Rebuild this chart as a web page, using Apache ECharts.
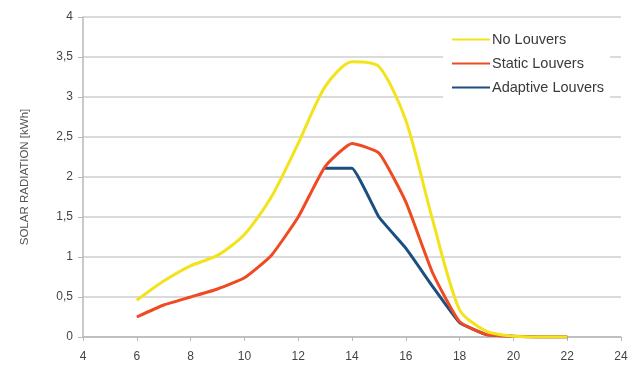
<!DOCTYPE html>
<html>
<head>
<meta charset="utf-8">
<script src="https://cdn.jsdelivr.net/npm/echarts@6/dist/echarts.min.js"></script>
<style>
html,body{margin:0;padding:0;background:#fff;}
#c{width:641px;height:377px;}
</style>
</head>
<body>
<div id="c"></div>
<script>
const hoursNo = [6,7,8,9,10,11,12,13,14,15,16,17,18,19,20,21,22];
const noLouvers = [0.46,0.7,0.89,1.02,1.28,1.75,2.42,3.13,3.44,3.38,2.71,1.46,0.34,0.07,0.01,0,0];
const hoursStatic = [6,7,8,9,10,11,12,13,14,15,16,17,18,19,20,21,22];
const staticLouvers = [0.25,0.4,0.5,0.6,0.74,1.02,1.5,2.13,2.42,2.3,1.69,0.8,0.19,0.03,0.01,0,0];
const hoursAdaptive = [13,14,15,16,17,18,19,20,21,22];
const adaptiveLouvers = [2.11,2.11,1.5,1.11,0.63,0.18,0.03,0.01,0,0];

const pair = (xs, ys) => xs.map((x, i) => [x, ys[i]]);
const chart = echarts.init(document.getElementById('c'));
chart.setOption({
  animation: false,
  backgroundColor: '#fff',
  grid: {left: 83, right: 20, top: 17, bottom: 40},
  legend: {
    orient: 'vertical', left: 443, top: 28, itemGap: 9,
    backgroundColor: '#fff', padding: [4, 6, 4, 9],
    icon: 'rect', itemWidth: 38, itemHeight: 2,
    textStyle: {fontFamily: 'Liberation Sans', fontSize: 14.5, lineHeight: 15, color: '#3a3a3a', padding: [0,0,0,-3]},
    data: ['No Louvers', 'Static Louvers', 'Adaptive Louvers']
  },
  xAxis: {
    type: 'value', min: 4, max: 24, interval: 2,
    axisLine: {show: true, lineStyle: {color: '#b8b8b8', width: 1.5}},
    axisTick: {show: true, length: 4, lineStyle: {color: '#b8b8b8'}},
    axisLabel: {fontFamily: 'Liberation Sans', fontSize: 12, color: '#444', margin: 14},
    splitLine: {show: false}
  },
  yAxis: {
    type: 'value', min: 0, max: 4, interval: 0.5,
    name: 'SOLAR RADIATION [kWh]', nameLocation: 'middle', nameGap: 52, nameRotate: 90,
    nameTextStyle: {fontFamily: 'Liberation Sans', fontSize: 11.5, color: '#555'},
    axisLine: {show: true, lineStyle: {color: '#b8b8b8', width: 1.5}},
    axisTick: {show: true, length: 5, lineStyle: {color: '#b8b8b8'}},
    axisLabel: {fontFamily: 'Liberation Sans', fontSize: 12, color: '#444', margin: 10,
      formatter: v => String(v).replace('.', ',')},
    splitLine: {show: true, lineStyle: {color: '#cfcfcf', width: 1.5}}
  },
  series: [
    {name: 'No Louvers', type: 'line', data: pair(hoursNo, noLouvers), showSymbol: false, smooth: 0.25,
      lineStyle: {color: '#f2e31c', width: 3}, itemStyle: {color: '#f2e31c'}, z: 3},
    {name: 'Static Louvers', type: 'line', data: pair(hoursStatic, staticLouvers), showSymbol: false, smooth: 0.15,
      lineStyle: {color: '#f04a22', width: 3}, itemStyle: {color: '#f04a22'}, z: 2},
    {name: 'Adaptive Louvers', type: 'line', data: pair(hoursAdaptive, adaptiveLouvers), showSymbol: false, smooth: 0.1,
      lineStyle: {color: '#1c4f80', width: 3}, itemStyle: {color: '#1c4f80'}, z: 1}
  ]
});
</script>
</body>
</html>
